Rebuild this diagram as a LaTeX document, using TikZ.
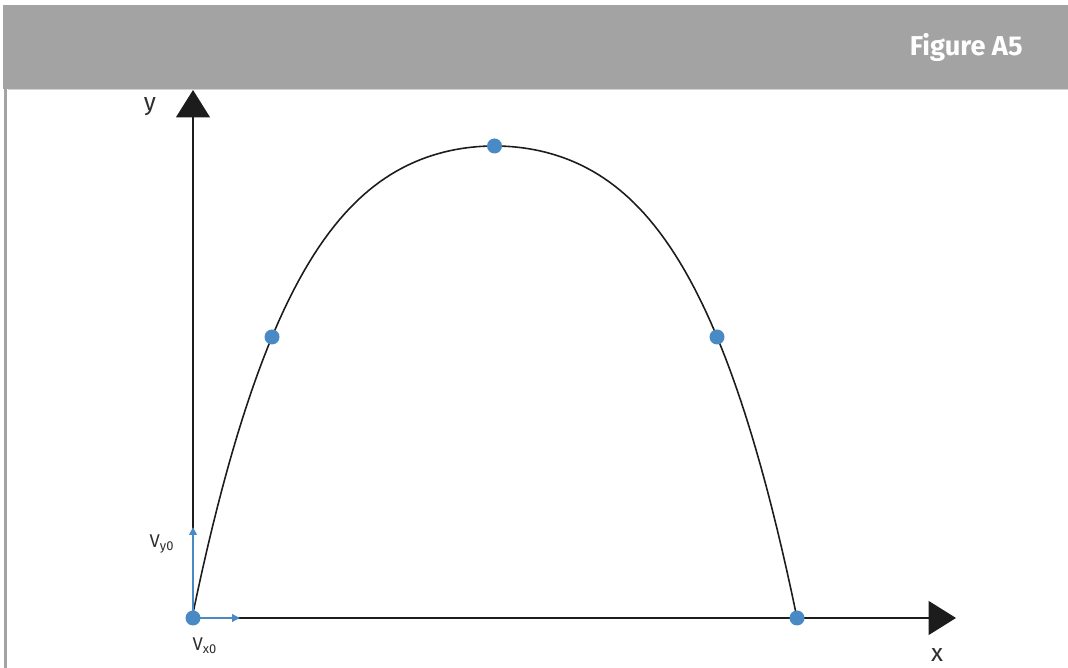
\documentclass[tikz,border=0pt]{standalone}
\usepackage{fontspec}
\setsansfont{Fira Sans}
\usetikzlibrary{arrows.meta,positioning}
\definecolor{hgray}{HTML}{A3A3A3}
\definecolor{lgray}{HTML}{D2D2D2}
\definecolor{pblue}{HTML}{4A8AC4}
\definecolor{dgray}{HTML}{1C1C1C}
\definecolor{tgray}{HTML}{2E2E2E}
\tikzset{
  % axes end in a large filled triangle
  axis/.style  = {-{Triangle[length=5.5mm, width=6.8mm]}, dgray, line width=0.9pt},
  vel/.style   = {-{Triangle[length=1.6mm, width=1.5mm]}, pblue, line width=1.1pt},
  curve/.style = {dgray, line width=0.9pt},
  pt/.style    = {circle, fill=pblue, inner sep=0pt, minimum size=3mm},
  lbl/.style   = {font=\sffamily\fontsize{14}{16}\selectfont, text=tgray, inner sep=0pt},
  tag/.style   = {font=\sffamily\fontsize{10.5}{12}\selectfont, text=tgray, inner sep=0pt},
  title/.style = {font=\sffamily\bfseries\fontsize{15.5}{18}\selectfont, text=white, inner sep=0pt},
}

\begin{document}
\begin{tikzpicture}[x=0.2mm,y=0.2mm]
\useasboundingbox (0,0) rectangle (1068,668);
% frame and header band
\fill[hgray] (3,579) rectangle (1068,663);
\draw[lgray, line width=0.3mm] (8,578.5) -- (1068,578.5);
\draw[hgray, line width=0.7mm] (5.5,0) -- (5.5,579);
\node[title, anchor=base east] (head) at (1023,612) {Figure A5};
% axes
\coordinate (O) at (193,50);
\coordinate (xtip) at (956,50);
\coordinate (ytip) at (193,578);
\draw[axis] (O) -- (xtip);
\draw[axis] (O) -- (ytip);
\node[lbl] (ylab) at (150,561) {y};
\node[lbl] (xlab) at (937,13) {x};
% trajectory
\draw[curve] plot[domain=-1:1, samples=120]
  ({494.5+302.5*\x}, {50+472*(1-0.45*\x*\x-0.55*\x*\x*\x*\x)});
% initial velocity parts
\coordinate (vy) at (193,141);
\coordinate (vx) at (240,50);
\draw[vel] (O) -- (vy);
\draw[vel] (O) -- (vx);
\node[tag] (vylab) at (162,124) {V\textsubscript{y0}};
\node[tag] (vxlab) at (205,22) {V\textsubscript{x0}};
% marked points
\node[pt] (p0) at (O) {};
\node[pt] (p1) at (272,331) {};
\node[pt] (p2) at (494.5,522) {};
\node[pt] (p3) at (717,331) {};
\node[pt] (p4) at (797,50) {};
\end{tikzpicture}
\end{document}
